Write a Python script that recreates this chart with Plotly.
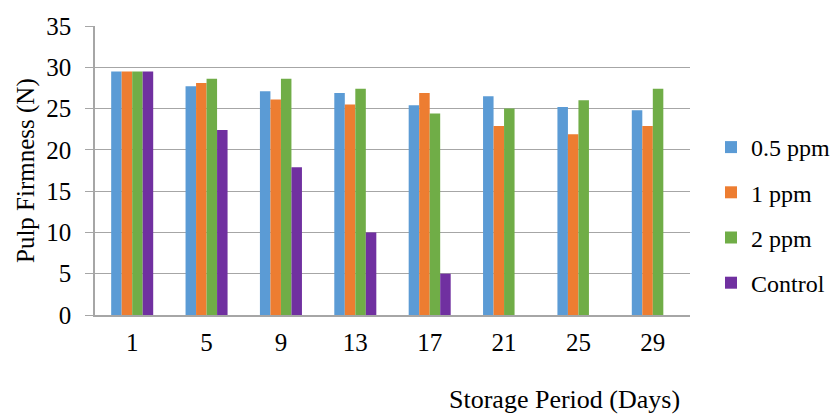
import plotly.graph_objects as go

days = ["1", "5", "9", "13", "17", "21", "25", "29"]
ppm_05 = [29.5, 27.7, 27.1, 26.9, 25.4, 26.5, 25.2, 24.8]
ppm_1 = [29.5, 28.1, 26.1, 25.5, 26.9, 22.9, 21.9, 22.9]
ppm_2 = [29.5, 28.6, 28.6, 27.4, 24.4, 25.0, 26.0, 27.4]
control = [29.5, 22.4, 17.9, 10.0, 5.0, 0, 0, 0]

series = [
    ("0.5 ppm", ppm_05, "#5B9BD5"),
    ("1 ppm", ppm_1, "#ED7D31"),
    ("2 ppm", ppm_2, "#70AD47"),
    ("Control", control, "#7030A0"),
]

FONT = "Liberation Serif, Times New Roman, serif"
FS = 25

fig = go.Figure()
for i, (name, vals, col) in enumerate(series):
    fig.add_trace(go.Bar(
        x=days, y=vals, name=name, marker_color=col,
        marker_line_width=0, legendgroup=f"g{i}",
    ))

# page has an 8px body margin; work in page pixels and convert
OFF = 8
W, H = 839 - OFF, 414 - OFF
PL, PR, PT, PB = 95, 690, 26, 315          # plot area in page pixels
L, T = PL - OFF, PT - OFF
R, B = W - (PR - OFF), H - (PB - OFF)
pw, ph = PR - PL, PB - PT


def px(x):
    return (x - PL) / pw


def py(y):
    return (PB - y) / ph


fig.update_layout(
    width=W, height=H,
    margin=dict(l=L, r=R, t=T, b=B, autoexpand=False),
    plot_bgcolor="white", paper_bgcolor="white",
    barmode="group", bargap=0.435, bargroupgap=0,
    font=dict(family=FONT, size=FS, color="black"),
    showlegend=True,
    legend=dict(
        x=px(711), y=py(215), xanchor="left", yanchor="middle",
        font=dict(family=FONT, size=24, color="black"),
        tracegroupgap=11, itemwidth=30,
    ),
    xaxis=dict(
        showline=True, linecolor="#A6A6A6", linewidth=1.5,
        ticks="", showgrid=False, ticklabelstandoff=4,
        tickfont=dict(family=FONT, size=FS, color="black"),
    ),
    yaxis=dict(
        range=[0, 35], dtick=5, showline=True, linecolor="#A6A6A6", linewidth=1.5,
        ticks="outside", ticklen=8, tickcolor="#A6A6A6",
        showgrid=True, gridcolor="#A6A6A6", gridwidth=1.2,
        ticklabelstandoff=9,
        tickfont=dict(family=FONT, size=FS, color="black"), zeroline=False,
    ),
    annotations=[
        dict(text="Pulp Firmness (N)", xref="paper", yref="paper",
             x=px(26), y=py(171), xanchor="center", yanchor="middle",
             showarrow=False, textangle=-90,
             font=dict(family=FONT, size=FS, color="black")),
        dict(text="Storage Period (Days)", xref="paper", yref="paper",
             x=px(564), y=py(399), xanchor="center", yanchor="middle",
             showarrow=False, font=dict(family=FONT, size=26, color="black")),
    ],
)

fig.write_html("out.html")
